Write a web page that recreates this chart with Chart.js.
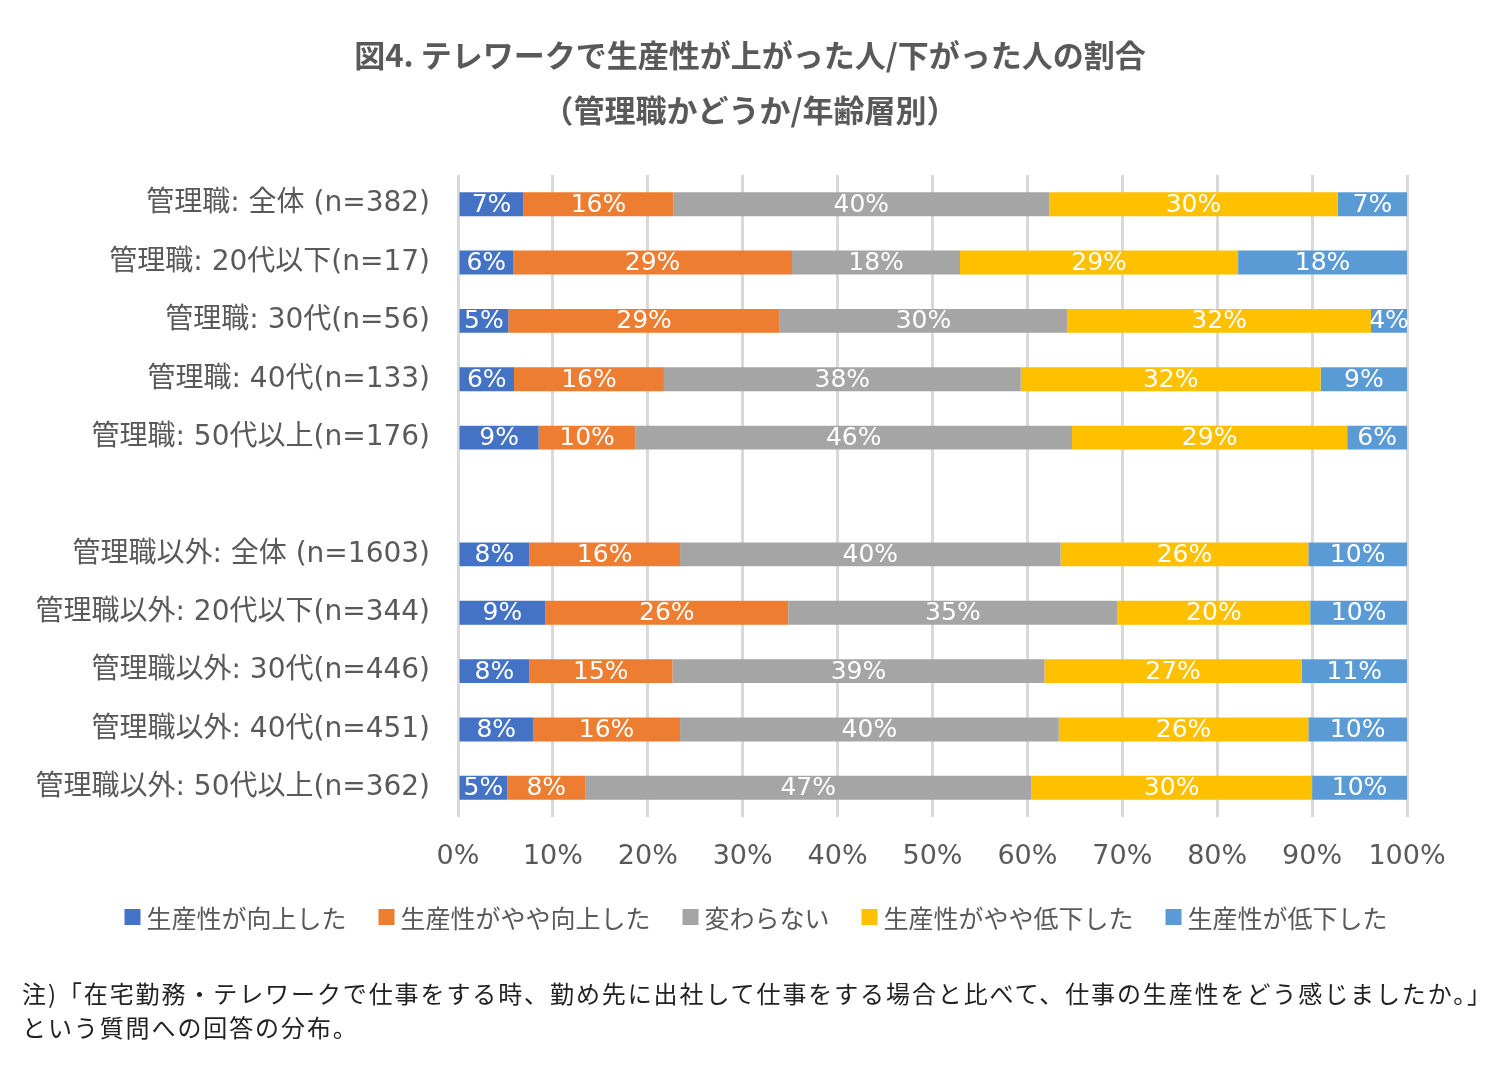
<!DOCTYPE html>
<html lang="ja">
<head>
<meta charset="utf-8">
<script src="https://cdn.jsdelivr.net/npm/chart.js@4.4.1/dist/chart.umd.min.js"></script>
<style>
    html, body { margin: 0; padding: 0; background: #fff; }
    #wrap { position: relative; width: 1507px; height: 1072px; }
    #note {
        position: absolute; left: 22px; top: 976px;
        font-family: "Noto Sans CJK JP", sans-serif; font-size: 24px; line-height: 34px;
        color: #222; letter-spacing: 1.9px; white-space: nowrap;
    }
</style>
</head>
<body>
<div id="wrap">
    <canvas id="teleworkChart" width="1507" height="1072"></canvas>
    <div id="note">注)「在宅勤務・テレワークで仕事をする時、勤め先に出社して仕事をする場合と比べて、仕事の生産性をどう感じましたか。」<br>という質問への回答の分布。</div>
</div>
<script>
const categories = [
    '管理職: 全体 (n=382)',
    '管理職: 20代以下(n=17)',
    '管理職: 30代(n=56)',
    '管理職: 40代(n=133)',
    '管理職: 50代以上(n=176)',
    '',
    '管理職以外: 全体 (n=1603)',
    '管理職以外: 20代以下(n=344)',
    '管理職以外: 30代(n=446)',
    '管理職以外: 40代(n=451)',
    '管理職以外: 50代以上(n=362)'
];

const seriesNames = ['生産性が向上した', '生産性がやや向上した', '変わらない', '生産性がやや低下した', '生産性が低下した'];
const seriesColors = ['#4472C4', '#ED7D31', '#A5A5A5', '#FFC000', '#5B9BD5'];

const improved         = [6.9, 5.8, 5.3, 5.9, 8.5, null, 7.5, 9.2, 7.5, 7.9, 5.2];
const slightlyImproved = [15.8, 29.4, 28.6, 15.8, 10.2, null, 15.9, 25.6, 15.1, 15.5, 8.2];
const unchanged        = [39.6, 17.7, 30.3, 37.6, 46.0, null, 40.1, 34.7, 39.2, 39.9, 47.0];
const slightlyWorse    = [30.4, 29.3, 32.0, 31.6, 29.0, null, 26.1, 20.3, 27.1, 26.3, 29.6];
const worse            = [7.3, 17.8, 3.8, 9.1, 6.3, null, 10.4, 10.2, 11.1, 10.4, 10.0];

const xTicks = [0, 10, 20, 30, 40, 50, 60, 70, 80, 90, 100];

const titleLines = ['図4. テレワークで生産性が上がった人/下がった人の割合', '（管理職かどうか/年齢層別）'];

const textColor = '#595959';
const latinJp = '"DejaVu Sans", "Noto Sans CJK JP", sans-serif';

// title centred on the whole picture, not on the plot
const pageTitle = {
    id: 'pageTitle',
    afterDraw(chart) {
        const ctx = chart.ctx;
        ctx.save();
        ctx.fillStyle = textColor;
        ctx.font = 'bold 31px "Noto Sans CJK JP", sans-serif';
        ctx.textAlign = 'center';
        ctx.textBaseline = 'middle';
        ctx.fillText(titleLines[0], 750, 55);
        ctx.fillText(titleLines[1], 750, 110);
        ctx.restore();
    }
};

// legend row centred on the page (the built-in one centres on the plot box)
const pageLegend = {
    id: 'pageLegend',
    afterDraw(chart) {
        const ctx = chart.ctx;
        const box = 16, gap = 6, spacing = 32, cy = 917;
        ctx.save();
        ctx.font = '25px "Noto Sans CJK JP", sans-serif';
        ctx.textBaseline = 'middle';
        ctx.textAlign = 'left';
        const items = chart.data.datasets.map(ds => ({
            text: ds.label, color: ds.backgroundColor,
            w: box + gap + ctx.measureText(ds.label).width
        }));
        const total = items.reduce((s, it) => s + it.w, 0) + spacing * (items.length - 1);
        let x = 756 - total / 2;
        items.forEach(it => {
            ctx.fillStyle = it.color;
            ctx.fillRect(x, cy - box / 2, box, box);
            ctx.fillStyle = textColor;
            ctx.fillText(it.text, x + box + gap, cy + 1);
            x += it.w + spacing;
        });
        ctx.restore();
    }
};

// white percentage labels centred in each segment
const barLabels = {
    id: 'barLabels',
    afterDatasetsDraw(chart) {
        const ctx = chart.ctx;
        ctx.save();
        ctx.fillStyle = '#fff';
        ctx.font = '25px ' + latinJp;
        ctx.textAlign = 'center';
        ctx.textBaseline = 'middle';
        chart.data.datasets.forEach((ds, i) => {
            const meta = chart.getDatasetMeta(i);
            meta.data.forEach((bar, j) => {
                const v = ds.data[j];
                if (v === null || v === undefined) return;
                const cx = (bar.x + bar.base) / 2;
                ctx.fillText(Math.round(v) + '%', cx, bar.y + 1);
            });
        });
        ctx.restore();
    }
};

document.addEventListener('DOMContentLoaded', function() {
    const ctx = document.getElementById('teleworkChart');
    const allSeries = [improved, slightlyImproved, unchanged, slightlyWorse, worse];

    new Chart(ctx, {
        type: 'bar',
        data: {
            labels: categories,
            datasets: allSeries.map((values, i) => ({
                label: seriesNames[i],
                data: values,
                backgroundColor: seriesColors[i],
                borderWidth: 0,
                barPercentage: 0.41,
                categoryPercentage: 1.0
            }))
        },
        options: {
            indexAxis: 'y',
            responsive: false,
            devicePixelRatio: 1,
            animation: false,
            layout: { padding: { left: 0, right: 100, top: 175, bottom: 197 } },
            scales: {
                x: {
                    stacked: true,
                    min: 0,
                    max: 100,
                    afterBuildTicks(scale) {
                        scale.ticks = xTicks.map(v => ({ value: v }));
                    },
                    afterFit(scale) { scale.height = 58; },
                    grid: { color: '#D9D9D9', lineWidth: 3, drawTicks: false },
                    border: { display: false },
                    ticks: {
                        color: textColor,
                        font: { family: latinJp, size: 27 },
                        padding: 24,
                        callback: v => v + '%'
                    }
                },
                y: {
                    stacked: true,
                    afterFit(scale) { scale.width = 458; },
                    grid: { display: false, drawTicks: false },
                    border: { display: false },
                    ticks: {
                        color: textColor,
                        font: { family: latinJp, size: 28 },
                        padding: 28,
                        autoSkip: false
                    }
                }
            },
            plugins: {
                title: { display: false },
                legend: { display: false },
                tooltip: { enabled: false }
            }
        },
        plugins: [barLabels, pageTitle, pageLegend]
    });
});
</script>
</body>
</html>
